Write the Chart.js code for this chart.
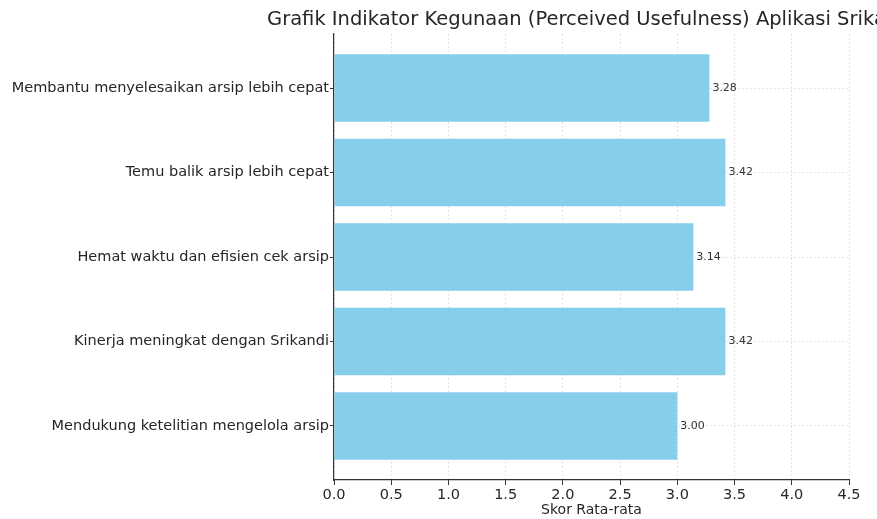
<!DOCTYPE html>
<html>
<head>
<meta charset="utf-8">
<script src="https://cdn.jsdelivr.net/npm/chart.js@4.4.0/dist/chart.umd.min.js"></script>
<style>
  html, body { margin: 0; padding: 0; background: #fff; overflow: hidden; }
  #wrap { width: 877px; height: 519px; position: relative; }
</style>
</head>
<body>
<div id="wrap"><canvas id="c"></canvas></div>
<script>
var categories = [
  'Membantu menyelesaikan arsip lebih cepat',
  'Temu balik arsip lebih cepat',
  'Hemat waktu dan efisien cek arsip',
  'Kinerja meningkat dengan Srikandi',
  'Mendukung ketelitian mengelola arsip'
];
var scores = [3.28, 3.42, 3.14, 3.42, 3.00];
var xTicks = [0, 0.5, 1, 1.5, 2, 2.5, 3, 3.5, 4, 4.5];
var titleText = 'Grafik Indikator Kegunaan (Perceived Usefulness) Aplikasi Srikandi';
var xTitle = 'Skor Rata-rata';

var FONT = "'DejaVu Sans', sans-serif";
var TXT = '#262626';

// draws title centred on the plot area (it runs off the right edge like the original)
var titlePlugin = {
  id: 'plotTitle',
  afterDraw: function(chart) {
    var ctx = chart.ctx, a = chart.chartArea;
    ctx.save();
    ctx.font = '19.5px ' + FONT;
    ctx.fillStyle = TXT;
    ctx.textAlign = 'center';
    ctx.textBaseline = 'middle';
    ctx.fillText(titleText, (a.left + a.right) / 2, 20);
    ctx.restore();
  }
};

// value labels at the end of each bar
var valuePlugin = {
  id: 'valLabels',
  afterDatasetsDraw: function(chart) {
    var ctx = chart.ctx;
    var meta = chart.getDatasetMeta(0);
    ctx.save();
    ctx.font = '11px ' + FONT;
    ctx.fillStyle = '#333';
    ctx.textAlign = 'left';
    ctx.textBaseline = 'middle';
    meta.data.forEach(function(bar, i) {
      ctx.fillText(scores[i].toFixed(2), bar.x + 3, bar.y);
    });
    ctx.restore();
  }
};

new Chart(document.getElementById('c'), {
  type: 'bar',
  data: {
    datasets: [{
      data: scores.map(function(v, i) { return { x: v, y: i }; }),
      backgroundColor: '#87CEEB',
      borderWidth: 0,
      barPercentage: 0.8,
      categoryPercentage: 1
    }]
  },
  options: {
    indexAxis: 'y',
    responsive: true,
    maintainAspectRatio: false,
    animation: false,
    layout: { padding: { top: 34, right: 28, left: 0, bottom: 0 } },
    plugins: { legend: { display: false }, tooltip: { enabled: false }, title: { display: false } },
    scales: {
      x: {
        type: 'linear', min: 0, max: 4.5,
        afterBuildTicks: function(axis) { axis.ticks = xTicks.map(function(v) { return { value: v }; }); },
        grid: { color: '#dcdcdc', lineWidth: 0.8, tickColor: '#333', tickLength: 5, tickWidth: 1 },
        border: { display: true, color: '#333', width: 1.2, dash: [2, 2] },
        ticks: { color: TXT, font: { family: FONT, size: 14.5 }, padding: 2, maxRotation: 0,
                 callback: function(v) { return Number(v).toFixed(1); } },
        title: { display: true, text: xTitle, color: TXT, font: { family: FONT, size: 14 }, padding: { top: 0, bottom: 0 } },
        afterFit: function(s) { s.height = 39; }
      },
      y: {
        type: 'linear', reverse: true, min: -0.64, max: 4.64,
        offset: false,
        afterBuildTicks: function(axis) { axis.ticks = categories.map(function(c, i) { return { value: i }; }); },
        grid: { offset: false, color: '#dcdcdc', lineWidth: 0.8, tickColor: '#333', tickLength: 4, tickWidth: 1 },
        border: { display: true, color: '#333', width: 1.2, dash: [2, 2] },
        ticks: { color: TXT, font: { family: FONT, size: 14.5 }, padding: 1,
                 callback: function(v) { return categories[v] || ''; } },
        afterFit: function(s) { s.width = 334; }
      }
    }
  },
  plugins: [titlePlugin, valuePlugin]
});
</script>
</body>
</html>
